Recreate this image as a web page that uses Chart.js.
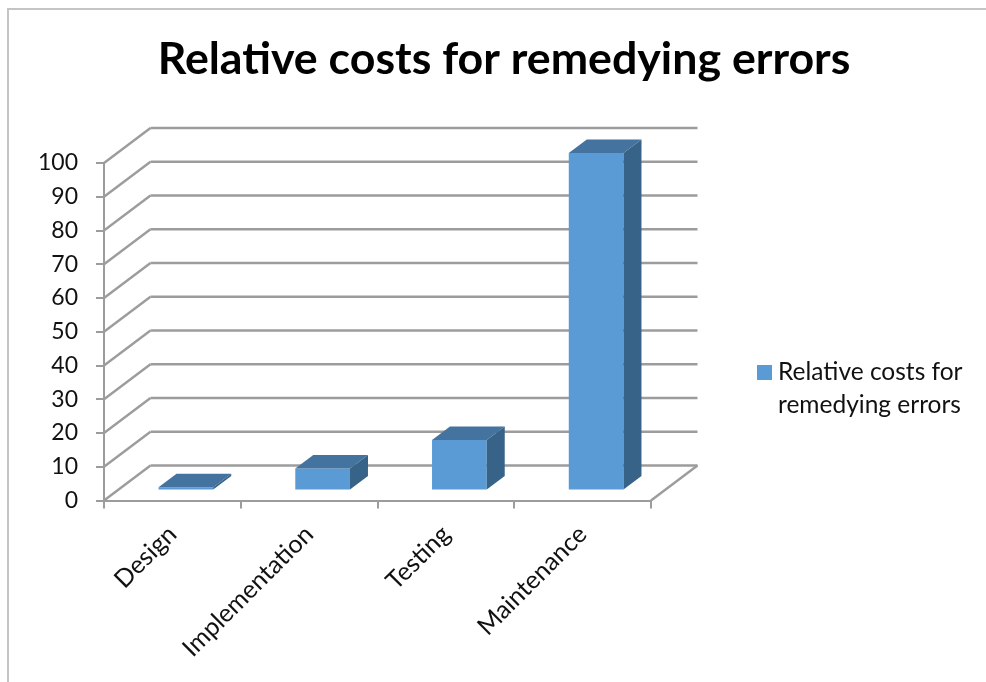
<!DOCTYPE html>
<html>
<head>
<meta charset="utf-8">
<title>Relative costs for remedying errors</title>
<script src="https://cdn.jsdelivr.net/npm/chart.js@4"></script>
<style>
	body { margin: 0; background: #fff; }
	#wrap { position: relative; width: 986px; height: 682px; overflow: hidden; }
	#frame { position: absolute; left: 7px; top: 8px; right: -4px; bottom: -4px; border: 2px solid #c4c4c4; }
	canvas { position: absolute; left: 0; top: 0; }
</style>
</head>
<body>
<div id="wrap">
	<div id="frame"></div>
	<canvas id="chart" width="986" height="682"></canvas>
</div>
<script>
const categories = ['Design', 'Implementation', 'Testing', 'Maintenance'];
const costs = [1, 6.5, 15, 100];
const legendLines = ['Relative costs for', 'remedying errors'];

const fontFamily = 'Lato, "Open Sans", sans-serif';
const textColor = '#111';
const lineColor = '#9c9c9c';
const frontColor = '#5b9bd5';
const topColor = '#44739f';
const sideColor = '#386388';

// floor depth of the fake 3d box, and how far the bars sit inside it
const wallX = 46.5;
const wallY = -35;
const barShiftX = 13.5;
const barShiftY = -10;
const barDepthX = 18;
const barDepthY = -13.5;

function line(ctx, x1, y1, x2, y2) {
	ctx.beginPath();
	ctx.moveTo(x1, y1);
	ctx.lineTo(x2, y2);
	ctx.stroke();
}

function face(ctx, color, points) {
	ctx.fillStyle = color;
	ctx.beginPath();
	points.forEach((p, i) => i ? ctx.lineTo(p[0], p[1]) : ctx.moveTo(p[0], p[1]));
	ctx.closePath();
	ctx.fill();
}

// back wall and left wall lines, one per y tick
const wallPlugin = {
	id: 'wall',
	beforeDatasetsDraw(chart) {
		const ctx = chart.ctx;
		const area = chart.chartArea;
		const y = chart.scales.y;
		ctx.save();
		ctx.strokeStyle = lineColor;
		ctx.lineWidth = 2.4;
		for (let tick of y.ticks) {
			let py = y.getPixelForValue(tick.value);
			line(ctx, area.left, py, area.left + wallX, py + wallY);
			line(ctx, area.left + wallX, py + wallY, area.right + wallX, py + wallY);
		}
		line(ctx, area.right, area.bottom, area.right + wallX, area.bottom + wallY);
		ctx.restore();
	},
};

// the library draws the front of each bar, moved back on the floor; top and side are added here
const depthPlugin = {
	id: 'depth',
	beforeDatasetDraw(chart) {
		chart.ctx.save();
		chart.ctx.translate(barShiftX, barShiftY);
	},
	afterDatasetDraw(chart, args) {
		const ctx = chart.ctx;
		for (let bar of args.meta.data) {
			let props = bar.getProps(['x', 'y', 'base', 'width'], true);
			let l = props.x - props.width / 2;
			let r = props.x + props.width / 2;
			face(ctx, topColor, [[l, props.y], [r, props.y], [r + barDepthX, props.y + barDepthY], [l + barDepthX, props.y + barDepthY]]);
			face(ctx, sideColor, [[r, props.y], [r + barDepthX, props.y + barDepthY], [r + barDepthX, props.base + barDepthY], [r, props.base]]);
		}
		ctx.restore();
	},
};

const legendPlugin = {
	id: 'sideLegend',
	afterDraw(chart) {
		const ctx = chart.ctx;
		ctx.save();
		ctx.fillStyle = frontColor;
		ctx.fillRect(757, 365, 15, 15);
		ctx.fillStyle = textColor;
		ctx.font = '24.5px ' + fontFamily;
		ctx.textBaseline = 'middle';
		legendLines.forEach((text, i) => ctx.fillText(text, 778, 372 + i * 33));
		ctx.restore();
	},
};

new Chart(document.getElementById('chart'), {
	type: 'bar',
	data: {
		labels: categories,
		datasets: [{
			label: legendLines.join(' '),
			data: costs,
			backgroundColor: frontColor,
			barPercentage: 0.4,
			categoryPercentage: 1,
			clip: false,
		}],
	},
	options: {
		responsive: false,
		animation: false,
		layout: { padding: { left: 22 } },
		plugins: {
			legend: { display: false },
			tooltip: { enabled: false },
			title: {
				display: true,
				text: 'Relative costs for remedying errors',
				color: '#000',
				font: { family: fontFamily, size: 44.7, weight: 'bold' },
				padding: { top: 33, bottom: 76.4 },
			},
		},
		scales: {
			x: {
				afterFit(axis) { axis.height = 181.5; },
				grid: { drawOnChartArea: false, color: lineColor, lineWidth: 2, tickLength: 8 },
				border: { color: lineColor, width: 2 },
				ticks: {
					color: textColor,
					font: { family: fontFamily, size: 25 },
					minRotation: 45,
					maxRotation: 45,
					padding: 11,
				},
			},
			y: {
				min: 0,
				max: 100,
				afterFit(axis) { axis.width = 82; },
				grid: { drawOnChartArea: false, color: lineColor, lineWidth: 2, tickLength: 8 },
				border: { color: lineColor, width: 2 },
				ticks: {
					stepSize: 10,
					color: textColor,
					font: { family: fontFamily, size: 23 },
					padding: 18,
				},
			},
			// empty axis that keeps the right side free for the legend
			gutter: {
				type: 'linear',
				position: 'right',
				afterFit(axis) { axis.width = 335; },
				grid: { display: false },
				border: { display: false },
				ticks: { display: false },
			},
		},
	},
	plugins: [wallPlugin, depthPlugin, legendPlugin],
});
</script>
</body>
</html>
